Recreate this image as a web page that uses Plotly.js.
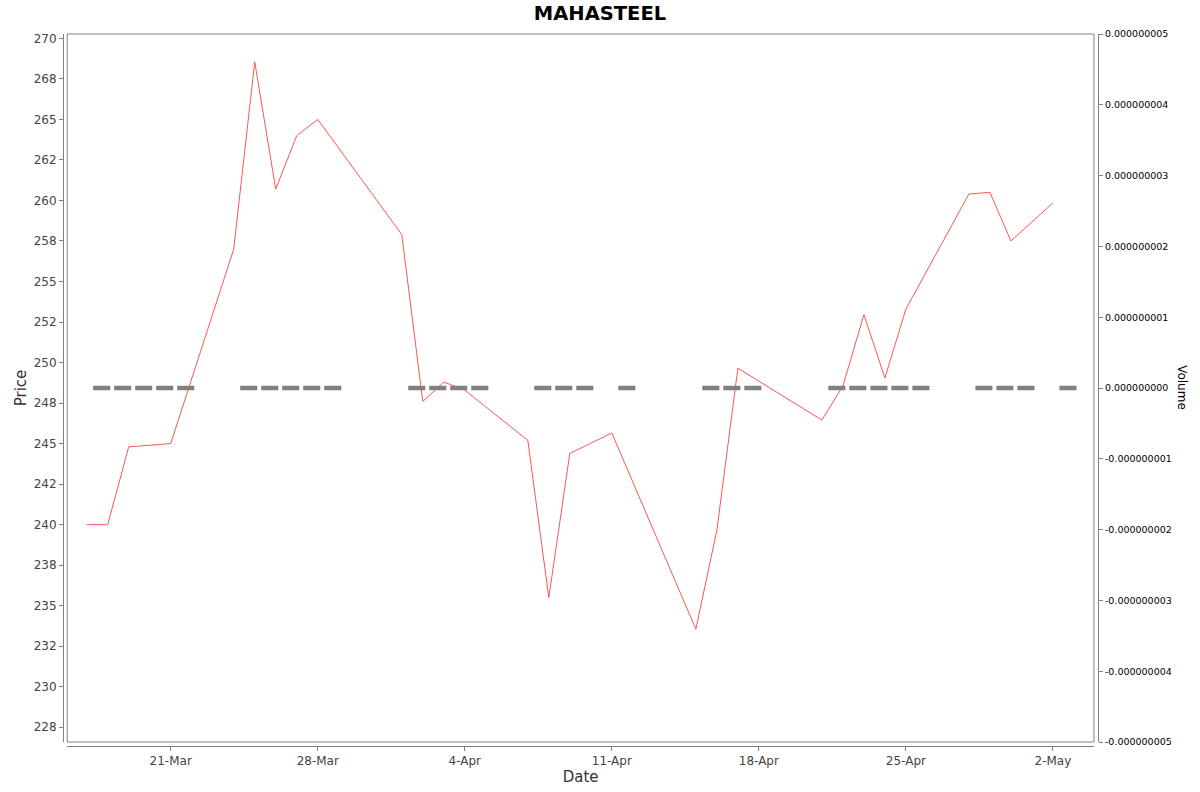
<!DOCTYPE html>
<html>
<head>
<meta charset="utf-8">
<script src="https://cdn.plot.ly/plotly-3.0.1.min.js"></script>
<style>
  html, body { margin: 0; padding: 0; background: #fff; }
  #chart { width: 1200px; height: 792px; }
</style>
</head>
<body>
<div id="chart"></div>
<script>
// trading days
let dates = [
    '2025-03-17', '2025-03-18', '2025-03-19', '2025-03-20', '2025-03-21',
    '2025-03-24', '2025-03-25', '2025-03-26', '2025-03-27', '2025-03-28',
    '2025-04-01', '2025-04-02', '2025-04-03', '2025-04-04',
    '2025-04-07', '2025-04-08', '2025-04-09', '2025-04-11',
    '2025-04-15', '2025-04-16', '2025-04-17',
    '2025-04-21', '2025-04-22', '2025-04-23', '2025-04-24', '2025-04-25',
    '2025-04-28', '2025-04-29', '2025-04-30', '2025-05-02'
];

let prices = [
    240.0, 240.0, 244.8, 244.9, 245.0,
    257.0, 268.55, 260.7, 264.0, 265.0,
    257.9, 247.6, 248.8, 248.3,
    245.2, 235.5, 244.4, 245.65,
    233.55, 239.65, 249.65,
    246.45, 248.55, 252.95, 249.05, 253.3,
    260.4, 260.5, 257.5, 259.85
];

let volumes = [
    0, 0, 0, 0, 0,
    0, 0, 0, 0, 0,
    0, 0, 0, 0,
    0, 0, 0, 0,
    0, 0, 0,
    0, 0, 0, 0, 0,
    0, 0, 0, 0
];

// tick labels
let xTickVals = ['2025-03-21', '2025-03-28', '2025-04-04', '2025-04-11', '2025-04-18', '2025-04-25', '2025-05-02'];
let xTickText = ['21-Mar', '28-Mar', '4-Apr', '11-Apr', '18-Apr', '25-Apr', '2-May'];

let priceTickVals = [227.5, 230, 232.5, 235, 237.5, 240, 242.5, 245, 247.5, 250, 252.5, 255, 257.5, 260, 262.5, 265, 267.5, 270];
let priceTickText = ['228', '230', '232', '235', '238', '240', '242', '245', '248', '250', '252', '255', '258', '260', '262', '265', '268', '270'];

let volTickVals = [-5e-9, -4e-9, -3e-9, -2e-9, -1e-9, 0, 1e-9, 2e-9, 3e-9, 4e-9, 5e-9];
let volTickText = volTickVals.map(v => v.toFixed(9));

let chart = document.getElementById('chart');

// Price line
let priceTrace = {
    type: 'scatter',
    mode: 'lines',
    name: 'Price',
    x: dates,
    y: prices,
    line: { color: 'rgb(255,85,85)', width: 1 },
    yaxis: 'y',
};

// Volume (all zero, drawn as flat dashes on the right axis)
let volumeTrace = {
    type: 'scatter',
    mode: 'markers',
    name: 'Volume',
    x: dates,
    y: volumes,
    xperiod: 86400000,
    xperiod0: '2025-01-01 17:08',
    xperiodalignment: 'end',
    marker: {
        symbol: 'line-ew',
        size: 12.2,
        color: 'rgb(128,128,128)',
        line: { color: 'rgb(128,128,128)', width: 4.5 },
    },
    yaxis: 'y2',
};

let axisGray = 'rgb(128,128,128)';

let layout = {
    width: 1200,
    height: 792,
    margin: { l: 63, r: 102, t: 34, b: 46 },
    paper_bgcolor: '#fff',
    plot_bgcolor: '#fff',
    showlegend: false,
    hovermode: false,
    font: { family: 'DejaVu Sans', color: '#444' },
    title: {
        text: '<b>MAHASTEEL</b>',
        font: { family: 'DejaVu Sans', size: 19.5, color: '#000' },
        x: 0.5,
        xanchor: 'center',
        y: 0.9836,
        yanchor: 'middle',
    },
    xaxis: {
        type: 'date',
        domain: [0.0041, 0.9961],
        range: ['2025-03-16 01:47', '2025-05-03 22:52'],
        anchor: 'free',
        position: 0,
        showgrid: false,
        zeroline: false,
        showline: true,
        linecolor: axisGray,
        linewidth: 1,
        ticks: 'outside',
        ticklen: 4,
        tickcolor: axisGray,
        tickvals: xTickVals,
        ticktext: xTickText,
        tickfont: { size: 12, color: '#444' },
        title: { text: 'Date', font: { size: 15, color: '#333' }, standoff: 4 },
    },
    yaxis: {
        domain: [0.0056, 1],
        range: [226.59, 270.27],
        anchor: 'free',
        position: 0,
        showgrid: false,
        zeroline: false,
        showline: true,
        linecolor: axisGray,
        linewidth: 1,
        ticks: 'outside',
        ticklen: 4,
        tickcolor: axisGray,
        tickvals: priceTickVals,
        ticktext: priceTickText,
        tickfont: { size: 12, color: '#444' },
        title: { text: 'Price', font: { size: 15, color: '#333' }, standoff: 2 },
    },
    yaxis2: {
        domain: [0.0056, 1],
        overlaying: 'y',
        side: 'right',
        anchor: 'free',
        position: 1,
        range: [-5e-9, 5e-9],
        showgrid: false,
        zeroline: false,
        showline: true,
        linecolor: axisGray,
        linewidth: 1,
        ticks: 'outside',
        ticklen: 4,
        tickcolor: axisGray,
        tickvals: volTickVals,
        ticktext: volTickText,
        tickfont: { size: 9.5, color: '#000' },
    },
    shapes: [{
        type: 'rect',
        xref: 'x domain',
        yref: 'y domain',
        x0: 0, x1: 1, y0: 0, y1: 1,
        line: { color: axisGray, width: 1 },
    }],
    annotations: [{
        text: 'Volume',
        xref: 'paper',
        yref: 'y domain',
        x: 1.081,
        xanchor: 'center',
        y: 0.5,
        yanchor: 'middle',
        showarrow: false,
        textangle: 90,
        font: { family: 'DejaVu Sans', size: 12, color: '#000' },
    }],
};

Plotly.newPlot(chart, [volumeTrace, priceTrace], layout, { displayModeBar: false, staticPlot: true });
</script>
</body>
</html>
